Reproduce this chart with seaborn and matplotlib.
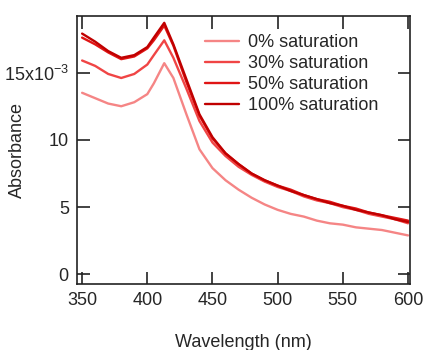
import numpy as np
import pandas as pd
import matplotlib
matplotlib.use("Agg")
import matplotlib.pyplot as plt
import seaborn as sns

# wavelength (nm) and absorbance (x10^-3)
wavelength = [350, 360, 370, 380, 390, 400, 405, 413, 420, 430, 440, 450, 460,
              470, 480, 490, 500, 510, 520, 530, 540, 550, 560, 570, 580, 590, 600]

abs_0 = [13.5, 13.1, 12.7, 12.5, 12.8, 13.4, 14.2, 15.7, 14.6, 11.9, 9.3, 7.9, 7.0,
         6.3, 5.7, 5.2, 4.8, 4.5, 4.3, 4.0, 3.8, 3.7, 3.5, 3.4, 3.3, 3.1, 2.9]
abs_30 = [15.9, 15.5, 14.9, 14.6, 14.9, 15.6, 16.3, 17.4, 16.1, 13.8, 11.4, 9.8, 8.8,
          8.0, 7.4, 6.9, 6.5, 6.2, 5.8, 5.5, 5.3, 5.0, 4.8, 4.5, 4.3, 4.1, 3.8]
abs_50 = [17.6, 17.1, 16.5, 16.0, 16.2, 16.8, 17.4, 18.5, 17.0, 14.3, 11.8, 10.1, 9.0,
          8.2, 7.5, 7.0, 6.6, 6.3, 5.9, 5.6, 5.4, 5.1, 4.9, 4.6, 4.4, 4.2, 4.0]
abs_100 = [17.9, 17.3, 16.6, 16.1, 16.3, 16.9, 17.6, 18.7, 17.1, 14.5, 11.9, 10.2, 9.0,
           8.2, 7.5, 7.0, 6.6, 6.2, 5.9, 5.6, 5.3, 5.1, 4.8, 4.6, 4.4, 4.1, 3.9]

labels = ["0% saturation", "30% saturation", "50% saturation", "100% saturation"]
colors = ["#F58585", "#F04545", "#E01515", "#C00000"]

# long form table for seaborn
df = pd.concat([
    pd.DataFrame({"wl": wavelength, "A": vals, "sample": lab})
    for vals, lab in zip([abs_0, abs_30, abs_50, abs_100], labels)
])

sns.set_style("ticks")
plt.rcParams["font.family"] = ["Liberation Sans", "DejaVu Sans"]
plt.rcParams["font.size"] = 13

fig = plt.figure(figsize=(4.24, 3.5), dpi=100)
ax = fig.add_axes([0.182, 0.189, 0.785, 0.765])

sns.lineplot(data=df, x="wl", y="A", hue="sample", palette=colors,
             linewidth=1.7, ax=ax, legend=True, sort=True)

ax.set_xlim(346.2, 601.5)
ax.set_ylim(-0.7, 19.2)
ax.set_xticks([350, 400, 450, 500, 550, 600])
ax.set_yticks([0, 5, 10, 15])
ax.set_yticklabels(["0", "5", "10", "15x10$^{\\mathregular{-3}}$"])

ax.tick_params(direction="in", length=9, width=1.2, top=True, right=True,
               labelsize=13, pad=6, color="#222222")
for s in ax.spines.values():
    s.set_linewidth(1.2)
    s.set_color("#222222")

ax.set_xlabel("Wavelength (nm)", fontsize=13, labelpad=18)
ax.set_ylabel("Absorbance", fontsize=13)
ax.yaxis.set_label_coords(-0.153, 0.5)

ax.legend(loc="upper left", bbox_to_anchor=(0.483, 0.902),
          bbox_transform=fig.transFigure, frameon=False, borderpad=0,
          borderaxespad=0, handlelength=1.9, handletextpad=0.5,
          labelspacing=0.22, fontsize=13)

fig.savefig("out.png", dpi=100)
